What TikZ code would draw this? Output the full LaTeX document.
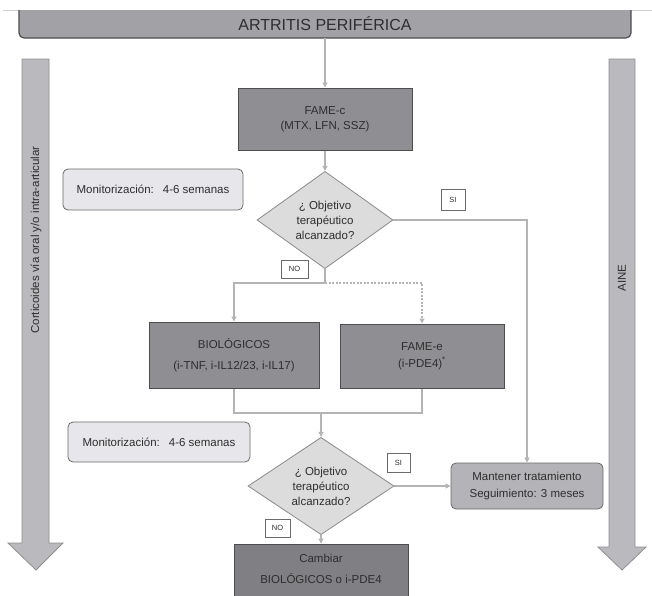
\documentclass[tikz,border=0pt]{standalone}
\usepackage{fontspec}
\setmainfont{Liberation Sans}
\usetikzlibrary{shapes.geometric,arrows.meta,calc}

\definecolor{ink}{HTML}{2E2E2E}
\definecolor{topfill}{HTML}{A2A2A6}
\definecolor{darkfill}{HTML}{8F8F93}
\definecolor{deepfill}{HTML}{808084}
\definecolor{boxline}{HTML}{4D4D4D}
\definecolor{midfill}{HTML}{B4B4B8}
\definecolor{lightfill}{HTML}{E7E7EB}
\definecolor{softline}{HTML}{6A6A6A}
\definecolor{decfill}{HTML}{DCDCDC}
\definecolor{decline}{HTML}{8A8A8A}
\definecolor{linkgray}{HTML}{B4B4B4}
\definecolor{bigfill}{HTML}{BABABE}
\definecolor{bigline}{HTML}{8E8E8E}

\tikzset{
  txt/.style={font=\fontsize{11.5}{13.5}\selectfont, text=ink, align=center},
  treatbox/.style={txt, draw=boxline, fill=darkfill, line width=1pt, inner sep=0pt},
  monbox/.style={txt, draw=softline, fill=lightfill, rounded corners=5pt, line width=.8pt, inner sep=0pt},
  decision/.style={diamond, txt, font=\fontsize{11.5}{15}\selectfont, draw=decline, fill=decfill, line width=.8pt, inner sep=0pt},
  tag/.style={draw=softline, fill=white, text=ink, font=\fontsize{7.5}{8}\selectfont, line width=.7pt, inner sep=0pt},
  plainlink/.style={draw=linkgray, line width=1.1pt},
  link/.style={plainlink, -{Triangle[length=5pt,width=5pt]}},
  bigarrow/.style={fill=bigfill, draw=bigline, line width=.8pt},
  sidetxt/.style={txt, rotate=90}
}

\begin{document}
\begin{tikzpicture}[x=1pt,y=-1pt]
\useasboundingbox (0,0) rectangle (652,595);

% thin rule and header bar
\draw[draw=black!18, line width=.8pt] (3,10) -- (652,10);
\begin{scope}
  \clip (0,10) rectangle (652,60);
  \fill[topfill, rounded corners=5pt] (19,0) rectangle (631,38);
  \draw[boxline, line width=1.2pt, rounded corners=5pt] (19,0) rectangle (631,38);
\end{scope}
\node[txt, font=\fontsize{16}{18}\selectfont, minimum width=612pt, minimum height=28pt, inner sep=0pt] (top) at (325,24) {ARTRITIS PERIFÉRICA};

% side arrows
\path[bigarrow] (22,59) -- (49,59) -- (49,543) -- (63,543) -- (36,570) -- (8,543) -- (22,543) -- cycle;
\path[bigarrow] (609,59) -- (635,59) -- (635,547) -- (646,547) -- (622,570) -- (598,547) -- (609,547) -- cycle;
\node[sidetxt] (cort) at (36,240) {Corticoides vía oral y/o intra-articular};
\node[sidetxt] (aine) at (622,278) {AINE};

% first line treatment
\node[treatbox, minimum width=174pt, minimum height=62pt] (fame) at (325,119) {FAME-c\\[1pt](MTX, LFN, SSZ)};
\node[decision, minimum width=136pt, minimum height=84pt] (d1) at (325,220) {¿ Objetivo\\terapéutico\\alcanzado?};
\node[monbox, minimum width=180pt, minimum height=41pt] (mon1) at (153,189.5) {Monitorización:\hspace{9pt}4-6 semanas};
\node[tag, minimum width=24pt, minimum height=21pt] (si1) at (453,200) {SI};
\node[tag, minimum width=27pt, minimum height=18pt] (no1) at (294.5,269) {NO};

% second line treatment
\node[treatbox, minimum width=170pt, minimum height=66pt] (bio) at (234,355) {BIOLÓGICOS\\[7pt](i-TNF, i-IL12/23, i-IL17)};
\node[treatbox, minimum width=164pt, minimum height=64pt] (famee) at (422,356) {FAME-e\\[3pt](i-PDE4)\textsuperscript{*}};

\node[monbox, minimum width=182pt, minimum height=40pt] (mon2) at (159,442) {Monitorización:\hspace{9pt}4-6 semanas};
\node[decision, minimum width=146pt, minimum height=88pt] (d2) at (321,486) {¿ Objetivo\\terapéutico\\alcanzado?};
\node[tag, minimum width=23pt, minimum height=19pt] (si2) at (398.5,462.5) {SI};
\node[tag, minimum width=25pt, minimum height=18pt] (no2) at (277.5,528) {NO};

\node[txt, draw=softline, fill=midfill, rounded corners=5pt, line width=.8pt, inner sep=0pt, minimum width=152pt, minimum height=46pt] (mant) at (527,486) {Mantener tratamiento\\[4pt]Seguimiento: 3 meses};

\node[treatbox, fill=deepfill, minimum width=174pt, minimum height=62pt] (camb) at (321,575) {};
\node[txt] (cambtxt) at (321,569) {Cambiar\\[8pt]BIOLÓGICOS o i-PDE4};

% connectors
\draw[link] (top) -- (fame);
\draw[link] (fame) -- (d1);
\coordinate (split) at (325,283);
\draw[plainlink] (d1.south) -- (split);
\draw[link] (split) -| (bio.north);
\draw[link, dash pattern=on 2pt off 1.5pt] (split) -| (famee.north);
\coordinate (join) at (321,413);
\draw[plainlink] (bio.south) -- (bio.south |- join) -- (famee.south |- join) -- (famee.south);
\draw[link] (join) -- (d2.north);
\draw[link] (d1.east) -| (mant.north);
\draw[link] (d2.east) -- (mant.west);
\draw[link] (d2.south) -- (camb.north);
\end{tikzpicture}
\end{document}
